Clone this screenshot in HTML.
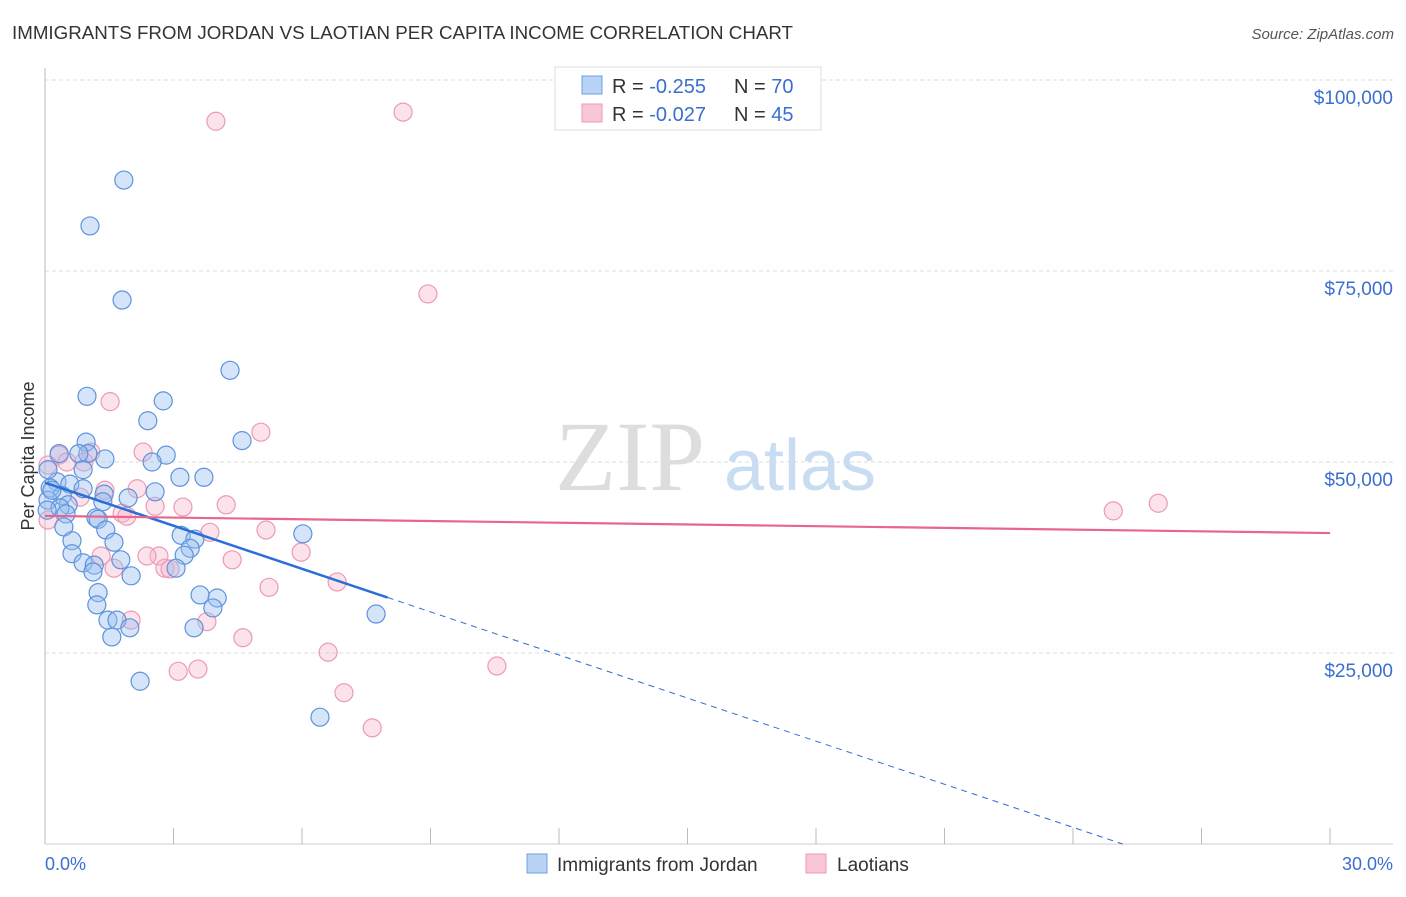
<!DOCTYPE html>
<html><head><meta charset="utf-8"><style>
body{margin:0;background:#fff;font-family:"Liberation Sans",sans-serif}
svg text{font-family:"Liberation Sans",sans-serif}
</style></head><body>
<svg width="1406" height="892" xmlns="http://www.w3.org/2000/svg">
<text x="12" y="39" font-size="18" fill="#333" textLength="781" lengthAdjust="spacingAndGlyphs">IMMIGRANTS FROM JORDAN VS LAOTIAN PER CAPITA INCOME CORRELATION CHART</text>
<text x="1394" y="39" font-size="15" fill="#555" font-style="italic" text-anchor="end">Source: ZipAtlas.com</text>
<g id="grid"></g>
<text x="630" y="490" font-size="100" fill="#ddd" text-anchor="middle" style="font-family:'Liberation Serif',serif">ZIP</text>
<text x="800" y="490" font-size="72" fill="#c8dcf2" text-anchor="middle">atlas</text>
<text x="34" y="456" font-size="18" fill="#333" text-anchor="middle" transform="rotate(-90 34 456)">Per Capita Income</text>
<g id="marks"></g>
<rect x="555" y="67" width="266" height="63" fill="#fff" stroke="#ddd"/>
<rect x="582" y="76" width="20" height="18" fill="#b8d3f5" stroke="#6fa0e0"/>
<rect x="582" y="104" width="20" height="18" fill="#f9c6d6" stroke="#ec9ab4"/>
<text x="612" y="93" font-size="20" fill="#333">R = <tspan fill="#3a6fd0">-0.255</tspan></text>
<text x="734" y="93" font-size="20" fill="#333">N = <tspan fill="#3a6fd0">70</tspan></text>
<text x="612" y="121" font-size="20" fill="#333">R = <tspan fill="#3a6fd0">-0.027</tspan></text>
<text x="734" y="121" font-size="20" fill="#333">N = <tspan fill="#3a6fd0">45</tspan></text>
<text x="45" y="870" font-size="18" fill="#3a6fd0">0.0%</text>
<text x="1393" y="870" font-size="18" fill="#3a6fd0" text-anchor="end">30.0%</text>
<rect x="527" y="854" width="20" height="19" fill="#b8d3f5" stroke="#6fa0e0"/>
<text x="557" y="871" font-size="19" fill="#333">Immigrants from Jordan</text>
<rect x="806" y="854" width="20" height="19" fill="#f9c6d6" stroke="#ec9ab4"/>
<text x="837" y="871" font-size="19" fill="#333">Laotians</text>
</svg>
<script>
const yTicks=[25000,50000,75000,100000];
const yTickLabels=["$25,000","$50,000","$75,000","$100,000"];
const jordanX=[1.84,1.05,1.80,4.32,0.98,2.76,2.40,4.60,0.96,0.33,1.00,0.79,2.83,1.40,2.50,0.89,3.15,3.71,0.28,0.58,0.12,0.89,2.57,1.38,0.40,1.94,0.07,1.35,0.54,0.35,0.49,1.19,1.24,1.42,0.44,3.18,3.50,6.02,1.61,0.63,3.39,3.25,0.63,1.77,0.89,1.15,3.06,1.12,2.01,3.62,1.24,4.02,1.21,3.92,7.73,1.47,1.68,1.98,3.48,1.56,2.22,6.42,0.07,0.16,0.05];
const jordanY=[86.9,80.9,71.2,62.0,58.6,58.0,55.4,52.8,52.6,51.1,51.1,51.1,50.9,50.4,50.0,49.0,48.0,48.0,47.4,47.1,46.6,46.5,46.1,45.8,45.6,45.3,45.0,44.8,44.4,44.0,43.2,42.7,42.5,41.1,41.5,40.4,39.9,40.6,39.5,39.7,38.7,37.8,38.0,37.2,36.8,36.5,36.1,35.6,35.1,32.6,32.9,32.2,31.3,30.9,30.1,29.3,29.3,28.3,28.3,27.1,21.3,16.6,49.0,46.3,43.7];
const laoX=[3.99,8.36,8.94,1.52,5.04,2.29,0.33,1.07,0.51,0.91,0.07,2.15,1.40,0.82,3.22,4.23,2.57,1.80,1.91,0.07,3.85,5.16,1.31,2.66,2.38,4.37,5.98,1.61,2.80,2.92,6.82,5.23,2.01,3.78,4.62,6.61,10.55,3.11,3.57,6.98,7.64,24.94,25.99];
const laoY=[94.6,95.8,72.0,57.9,53.9,51.3,50.9,51.3,50.0,50.0,49.6,46.5,46.3,45.4,44.1,44.4,44.2,43.3,42.9,42.4,40.8,41.1,37.7,37.7,37.7,37.2,38.2,36.1,36.1,36.0,34.3,33.6,29.3,29.1,27.0,25.1,23.3,22.6,22.9,19.8,15.2,43.6,44.6];
const jordanTrend=[47.3,-1.88];
const laoTrend=[42.95,-0.075];
const NS="http://www.w3.org/2000/svg";
const sx=p=>45+p/30*1285;
const sy=k=>844-k*1000/100000*764;
function mk(tag,attrs,parent){const e=document.createElementNS(NS,tag);for(const k in attrs)e.setAttribute(k,attrs[k]);parent.appendChild(e);return e;}
const grid=document.getElementById('grid'),marks=document.getElementById('marks');
yTicks.forEach((v,i)=>{const y=sy(v/1000);
const l=mk('line',{x1:45,x2:1393,y1:y,y2:y,stroke:'#ddd','stroke-dasharray':'4 3'},grid);


const t=mk('text',{x:1393,y:y+24,'font-size':19,fill:'#3a6fd0','text-anchor':'end'},grid);t.textContent=yTickLabels[i];

});
const ax=mk('line',{x1:45,x2:45,y1:68,y2:844,stroke:'#bbb'},grid);


const bx=mk('line',{x1:45,x2:1393,y1:844,y2:844,stroke:'#ccc'},grid);


for(let i=0;i<=10;i++){const x=sx(i*3);const t=mk('line',{x1:x,x2:x,y1:828,y2:844,stroke:'#bbb'},grid);

}
laoX.forEach((x,i)=>{const c=mk('circle',{cx:sx(x),cy:sy(laoY[i]),r:9,fill:'rgba(248,182,204,0.4)',stroke:'#ec9ab4','stroke-width':1.2},marks);

});
jordanX.forEach((x,i)=>{const c=mk('circle',{cx:sx(x),cy:sy(jordanY[i]),r:9,fill:'rgba(150,190,240,0.4)',stroke:'#5f92dc','stroke-width':1.2},marks);

});
const jt=x=>jordanTrend[0]+jordanTrend[1]*x;
const xEnd=-jordanTrend[0]/jordanTrend[1];
let l1=mk('line',{x1:sx(0),y1:sy(jt(0)),x2:sx(8),y2:sy(jt(8)),stroke:'#2a6fd6','stroke-width':2.5},marks);


let l2=mk('line',{x1:sx(8),y1:sy(jt(8)),x2:sx(xEnd),y2:sy(0),stroke:'#2a6fd6','stroke-width':1,'stroke-dasharray':'6 5'},marks);


const lt=x=>laoTrend[0]+laoTrend[1]*x;
let l3=mk('line',{x1:sx(0),y1:sy(lt(0)),x2:sx(30),y2:sy(lt(30)),stroke:'#e8658f','stroke-width':2.2},marks);


</script>
</body></html>
